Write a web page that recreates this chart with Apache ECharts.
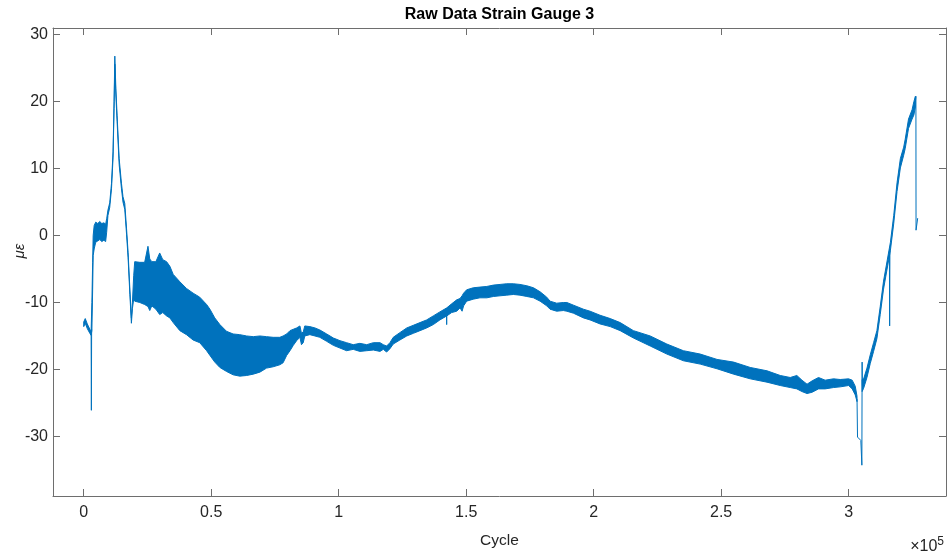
<!DOCTYPE html>
<html>
<head>
<meta charset="utf-8">
<script src="https://cdn.jsdelivr.net/npm/echarts@6/dist/echarts.min.js"></script>
<style>
  html, body { margin: 0; padding: 0; background: #ffffff; }
  #chart { width: 951px; height: 554px; }
</style>
</head>
<body>
<div id="chart"></div>
<script>
// Strain gauge 3 raw record: the signal is dense, so it is kept as an
// upper/lower envelope over cycle count, plus isolated single-sample spikes.

const mainCycles = [0, 600, 1400, 2400, 2900, 3200, 3500, 3700, 4100, 4700, 5500, 6300, 7100, 7900, 8600, 9000, 9500, 10200, 10900, 11500, 11900, 12200, 12600, 13100, 13900, 14800, 15400, 16100, 16800, 17400, 18100, 18700, 19100, 19600, 20000, 22000, 23900, 25200, 25900, 26700, 28300, 29800, 31000, 32500, 33800, 35100, 37700, 40300, 42900, 45500, 48200, 49500, 51400, 53400, 56000, 58600, 61200, 63900, 66500, 69100, 71700, 74300, 76900, 78200, 79600, 80900, 82200, 83500, 84800, 85400, 86100, 86700, 88700, 90700, 92600, 95300, 97900, 100500, 103100, 105700, 108300, 111000, 113600, 116200, 117500, 118800, 120100, 121400, 124000, 126700, 129300, 131900, 134500, 137100, 139700, 142400, 144300, 146300, 147600, 148400, 149000, 150200, 152800, 155400, 158100, 160700, 163300, 165900, 168500, 171100, 173800, 176400, 179000, 181600, 182900, 185500, 188100, 189500, 192100, 196000, 198600, 202500, 206500, 210400, 215600, 222200, 228700, 235200, 241800, 248400, 254900, 261400, 268000, 273200, 277100, 279700, 281700, 283700, 285700, 288200, 290800, 294100, 296700, 300000, 301400, 302600, 303300];

const mainUpper = [-12.9, -12.4, -13.2, -14.0, -14.3, -10.0, -4.0, 0.0, 1.5, 2.0, 1.8, 2.1, 1.8, 1.9, 1.7, 2.5, 3.8, 4.9, 7.8, 12.5, 20.0, 26.8, 22.0, 17.9, 11.5, 7.8, 5.8, 4.8, 1.0, -2.5, -8.0, -12.3, -10.0, -6.0, -3.9, -4.0, -4.0, -1.6, -3.5, -3.9, -3.9, -2.6, -3.6, -3.9, -4.6, -5.8, -6.9, -7.9, -8.6, -9.2, -10.3, -11.0, -12.3, -13.3, -14.3, -14.7, -14.8, -15.0, -15.1, -15.0, -15.1, -15.2, -15.2, -15.0, -14.7, -14.2, -14.0, -13.8, -13.5, -14.6, -14.4, -13.5, -13.6, -13.8, -14.1, -14.7, -15.3, -15.7, -16.0, -16.3, -16.1, -16.3, -16.0, -16.0, -16.3, -16.5, -16.0, -15.2, -14.5, -13.8, -13.4, -13.0, -12.6, -12.0, -11.4, -10.8, -10.2, -9.6, -9.4, -9.0, -8.6, -8.1, -7.8, -7.7, -7.6, -7.4, -7.3, -7.2, -7.2, -7.3, -7.5, -7.8, -8.4, -9.2, -9.8, -10.1, -10.0, -10.0, -10.4, -11.0, -11.3, -11.9, -12.4, -13.0, -14.2, -15.0, -16.2, -17.2, -17.7, -18.5, -18.9, -19.7, -20.2, -20.9, -21.2, -20.9, -21.6, -22.2, -21.7, -21.2, -21.6, -21.4, -21.5, -21.4, -21.6, -22.5, -24.0];

const mainLower = [-13.6, -13.1, -13.9, -14.6, -14.9, -14.2, -8.0, -3.0, -2.0, -1.0, -0.8, -0.6, -0.9, -0.7, -0.9, 0.5, 3.0, 4.2, 7.0, 11.6, 19.0, 25.6, 21.0, 17.0, 10.6, 7.0, 5.0, 3.9, 0.2, -3.3, -8.8, -13.1, -10.9, -9.5, -9.8, -10.0, -10.3, -10.6, -11.2, -10.5, -11.0, -11.8, -11.5, -12.0, -12.3, -13.0, -14.2, -14.8, -15.6, -16.0, -17.2, -17.9, -18.9, -19.7, -20.3, -20.8, -21.0, -20.9, -20.7, -20.4, -19.8, -19.6, -19.3, -19.0, -17.9, -17.2, -16.4, -15.7, -15.2, -16.3, -16.0, -15.0, -14.8, -15.0, -15.2, -15.8, -16.4, -16.8, -17.2, -17.0, -17.3, -17.2, -17.1, -17.3, -17.0, -17.4, -16.9, -16.2, -15.6, -15.0, -14.6, -14.2, -13.8, -13.3, -12.6, -12.0, -11.5, -11.3, -10.8, -11.3, -10.5, -9.8, -9.5, -9.3, -9.3, -9.1, -9.0, -8.9, -8.8, -8.9, -9.1, -9.3, -9.8, -10.5, -11.0, -11.3, -11.2, -11.3, -11.6, -12.3, -12.6, -13.2, -13.6, -14.2, -15.3, -16.5, -17.7, -18.7, -19.2, -19.9, -20.7, -21.4, -21.9, -22.4, -22.7, -22.9, -23.3, -23.6, -23.4, -22.9, -22.9, -22.7, -22.6, -22.4, -22.9, -23.8, -24.8];

const recoveryCycles = [305300, 305900, 307200, 308500, 309800, 311100, 312400, 313700, 315100, 316400, 317700, 319000, 320300, 321600, 322200, 323500, 324900, 325600, 326200];
const recoveryUpper = [-21.5, -21.4, -19.8, -17.8, -16.0, -14.2, -10.6, -6.8, -3.8, -1.0, 3.0, 7.9, 11.5, 13.2, 14.4, 17.4, 18.8, 20.0, 20.8];
const recoveryLower = [-23.3, -22.8, -21.2, -19.1, -17.3, -15.4, -11.8, -8.0, -5.0, -2.2, 1.8, 6.6, 10.1, 12.0, 13.0, 16.0, 17.4, 18.0, 19.2];

// Single-sample excursions drawn as thin lines
const spikeStartCycles = [2900, 3000, 3100];
const spikeStartValues = [-14.6, -26.1, -14.0];
const notchCycles = [142300, 142350, 142400];
const notchValues = [-11.8, -13.3, -11.8];
const dropCycles = [303300, 303500, 304000, 304800, 305100, 305200, 305300, 305400];
const dropValues = [-24.4, -30.1, -30.3, -30.6, -30.4, -34.3, -18.9, -22.4];
const riseSpikeCycles = [316000, 316100, 316200];
const riseSpikeValues = [-2.4, -13.5, -2.0];
const tailCycles = [326200, 326400, 326450, 327100];
const tailValues = [20.0, 20.8, 0.8, 2.6];

const xTicks = [0, 50000, 100000, 150000, 200000, 250000, 300000];
const yTicks = [-30, -20, -10, 0, 10, 20, 30];

const LINE = '#0072BD';
const AXIS = '#6e6e6e';
const TEXT = '#262626';
const FONT = '"Liberation Sans", Arial, Helvetica, sans-serif';

const bands = [
  { cycles: mainCycles, upper: mainUpper, lower: mainLower },
  { cycles: recoveryCycles, upper: recoveryUpper, lower: recoveryLower }
];
const spikes = [
  [spikeStartCycles, spikeStartValues],
  [notchCycles, notchValues],
  [dropCycles, dropValues],
  [riseSpikeCycles, riseSpikeValues],
  [tailCycles, tailValues]
];

function renderBand(params, api) {
  const b = bands[params.dataIndex];
  const pts = [];
  for (let i = 0; i < b.cycles.length; i++) pts.push(api.coord([b.cycles[i], b.upper[i]]));
  for (let i = b.cycles.length - 1; i >= 0; i--) pts.push(api.coord([b.cycles[i], b.lower[i]]));
  return {
    type: 'polygon',
    shape: { points: pts },
    style: { fill: LINE, stroke: LINE, lineWidth: 1, lineJoin: 'round' }
  };
}

function axisCommon(extra) {
  return Object.assign({
    type: 'value',
    axisLine: { show: true, onZero: false, lineStyle: { color: AXIS, width: 1 } },
    splitLine: { show: false }
  }, extra);
}

const chart = echarts.init(document.getElementById('chart'), null, { renderer: 'canvas' });

chart.setOption({
  animation: false,
  backgroundColor: '#ffffff',
  grid: { left: 53, right: 5, top: 28, bottom: 55, containLabel: false },
  xAxis: [
    axisCommon({
      position: 'bottom', min: -12050, max: 338200,
      axisTick: { show: true, inside: true, length: 7, customValues: xTicks, lineStyle: { color: AXIS } },
      axisLabel: {
        customValues: xTicks, color: TEXT, fontSize: 16, fontFamily: FONT, margin: 9,
        formatter: v => String(v / 1e5)
      },
      name: 'Cycle', nameLocation: 'middle', nameGap: 37,
      nameTextStyle: { color: TEXT, fontSize: 15.5, fontFamily: FONT }
    }),
    axisCommon({
      position: 'top', min: -12050, max: 338200,
      axisTick: { show: true, inside: true, length: 7, customValues: xTicks, lineStyle: { color: AXIS } },
      axisLabel: { show: false }
    })
  ],
  yAxis: [
    axisCommon({
      position: 'left', min: -38.9, max: 31,
      axisTick: { show: true, inside: true, length: 7, customValues: yTicks, lineStyle: { color: AXIS } },
      axisLabel: { customValues: yTicks, color: TEXT, fontSize: 16, fontFamily: FONT, margin: 5 }
    }),
    axisCommon({
      position: 'right', min: -38.9, max: 31,
      axisTick: { show: true, inside: true, length: 7, customValues: yTicks, lineStyle: { color: AXIS } },
      axisLabel: { show: false }
    })
  ],
  graphic: [
    {
      type: 'text', x: 499.5, y: 15,
      style: {
        text: 'Raw Data Strain Gauge 3', fill: '#000000',
        font: 'bold 16px ' + FONT, align: 'center', verticalAlign: 'middle'
      }
    },
    {
      type: 'text', x: 20, y: 251, rotation: Math.PI / 2,
      style: {
        text: 'με', fill: TEXT,
        font: 'italic 15px ' + FONT, align: 'center', verticalAlign: 'middle'
      }
    },
    {
      type: 'text', x: 944, y: 547,
      style: {
        text: '×10{sup|5}', fill: TEXT,
        font: '16px ' + FONT, align: 'right', verticalAlign: 'middle',
        rich: { sup: { fontSize: 12, fontFamily: FONT, fill: TEXT, verticalAlign: 'top', padding: [0, 0, 10, 0] } }
      }
    }
  ],
  series: [
    {
      type: 'custom',
      name: 'Strain Gauge 3',
      xAxisIndex: 0, yAxisIndex: 0,
      renderItem: renderBand,
      data: bands.map(b => [b.cycles[0], b.upper[0]]),
      silent: true,
      z: 2
    }
  ].concat(spikes.map(([cx, vals]) => ({
    type: 'line',
    xAxisIndex: 0, yAxisIndex: 0,
    data: cx.map((c, i) => [c, vals[i]]),
    showSymbol: false,
    silent: true,
    lineStyle: { color: LINE, width: 1 },
    z: 3
  })))
});
</script>
</body>
</html>
